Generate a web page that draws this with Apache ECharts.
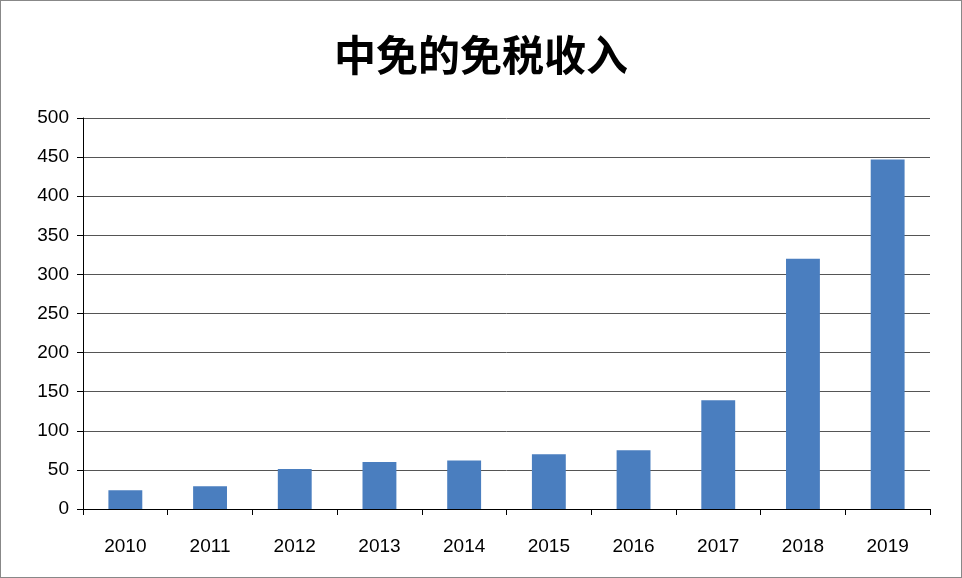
<!DOCTYPE html>
<html><head><meta charset="utf-8">
<script src="https://cdn.jsdelivr.net/npm/echarts@6/dist/echarts.min.js"></script>
<style>html,body{margin:0;padding:0;background:#fff}#c{width:962px;height:578px;box-sizing:border-box;border:1px solid #888}</style>
</head><body><div id="c"></div>
<script>
const title = '中免的免税收入';
const categories = ['2010','2011','2012','2013','2014','2015','2016','2017','2018','2019'];
const values = [24, 29, 51, 60, 62, 70, 75, 139, 320, 447];
const chart = echarts.init(document.getElementById('c'));
chart.setOption({
  animation: false,
  title: {text: title, left: 'center', top: 28, textStyle: {fontFamily: 'Noto Sans CJK SC', fontSize: 42, fontWeight: 'bold', color: '#000'}},
  grid: {left: 82, right: 31, top: 117, bottom: 68},
  xAxis: {type: 'category', data: categories,
    axisLine: {lineStyle: {color: '#000'}},
    axisTick: {show: true, length: 6, lineStyle: {color: '#000'}},
    axisLabel: {fontSize: 19, color: '#000', margin: 28, fontFamily: 'Liberation Sans'}},
  yAxis: {type: 'value', min: 0, max: 500, interval: 50,
    axisLine: {show: true, lineStyle: {color: '#000'}},
    axisTick: {show: true, length: 6, lineStyle: {color: '#000'}},
    splitLine: {lineStyle: {color: '#555'}},
    axisLabel: {fontSize: 19, color: '#000', margin: 14, fontFamily: 'Liberation Sans'}},
  series: [{type: 'bar', data: values, barWidth: '40%', itemStyle: {color: '#4a7ebf'}}]
});
</script></body></html>
